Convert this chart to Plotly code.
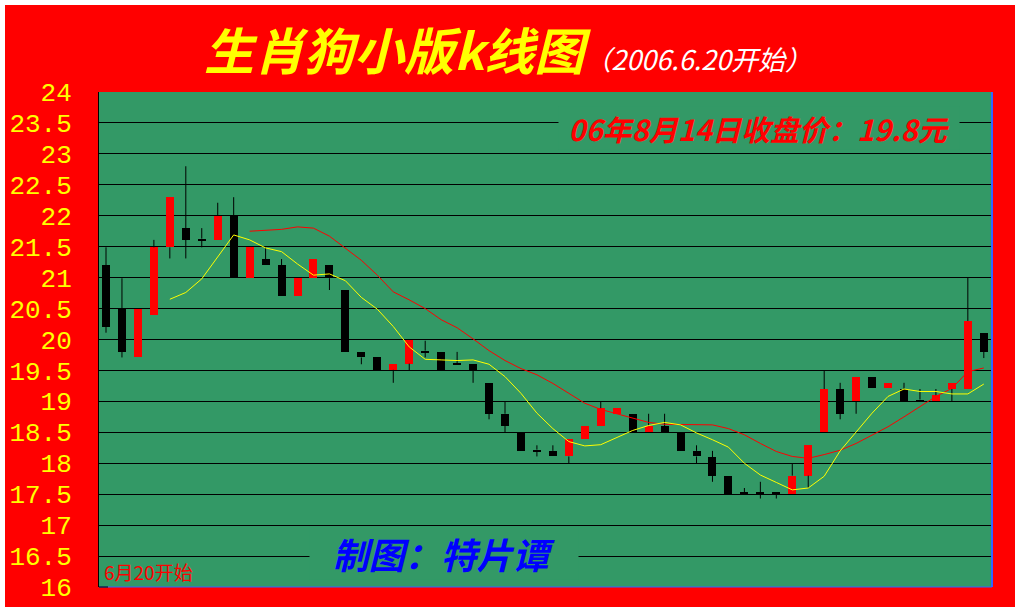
import plotly.graph_objects as go

# ---------------- data ----------------
open_ = [21.20, 20.49, 19.71, 20.40, 21.49, 21.80, 21.63, 21.61, 22.00, 20.99,
         21.30, 21.20, 20.70, 21.00, 21.20, 20.80, 19.80, 19.71, 19.51, 19.61,
         19.82, 19.80, 19.62, 19.60, 19.30, 18.80, 18.50, 18.22, 18.20, 18.11,
         18.40, 18.61, 18.80, 18.80, 18.50, 18.60, 18.50, 18.20, 18.10, 17.80,
         17.53, 17.53, 17.53, 17.50, 17.80, 18.50, 19.20, 19.00, 19.39, 19.21,
         19.20, 19.03, 19.00, 19.20, 19.20, 20.10]
high = [21.49, 20.99, 20.49, 21.61, 22.30, 22.80, 21.80, 22.21, 22.30, 21.49,
        21.49, 21.30, 21.00, 21.30, 21.20, 20.80, 19.80, 19.71, 19.60, 20.00,
        19.98, 19.80, 19.80, 19.60, 19.30, 19.00, 18.50, 18.29, 18.29, 18.39,
        18.60, 19.00, 18.89, 18.80, 18.80, 18.80, 18.50, 18.29, 18.20, 17.80,
        17.60, 17.70, 17.53, 18.00, 18.29, 19.50, 19.30, 19.39, 19.39, 19.30,
        19.30, 19.20, 19.20, 19.30, 21.00, 20.10]
low = [20.11, 19.71, 19.71, 20.40, 21.31, 21.31, 21.49, 21.61, 20.99, 20.99,
       21.20, 20.70, 20.70, 21.00, 20.80, 19.80, 19.60, 19.50, 19.30, 19.50,
       19.71, 19.50, 19.59, 19.30, 18.71, 18.50, 18.20, 18.11, 18.11, 18.00,
       18.40, 18.61, 18.80, 18.50, 18.50, 18.50, 18.20, 18.00, 17.70, 17.50,
       17.50, 17.43, 17.43, 17.50, 17.60, 18.50, 18.71, 18.80, 19.21, 19.21,
       19.00, 19.00, 19.00, 19.00, 19.20, 19.70]
close = [20.21, 19.80, 20.49, 21.49, 22.30, 21.61, 21.60, 22.00, 20.99, 21.49,
         21.20, 20.70, 21.00, 21.30, 20.99, 19.80, 19.71, 19.50, 19.60, 20.00,
         19.79, 19.50, 19.59, 19.50, 18.80, 18.61, 18.20, 18.19, 18.11, 18.39,
         18.60, 18.89, 18.89, 18.50, 18.61, 18.50, 18.20, 18.11, 17.80, 17.50,
         17.50, 17.50, 17.50, 17.80, 18.29, 19.20, 18.80, 19.39, 19.21, 19.30,
         19.00, 19.00, 19.10, 19.30, 20.30, 19.80]

ma_short = [None] * 4 + [
    20.65, 20.76, 20.98, 21.34, 21.69, 21.61, 21.48, 21.42, 21.22, 21.04,
    21.06, 20.95, 20.68, 20.49, 20.21, 19.88, 19.68, 19.67, 19.66, 19.67,
    19.60, 19.40, 19.13, 18.81, 18.56, 18.35, 18.28, 18.30, 18.41, 18.53,
    18.61, 18.66, 18.62, 18.49, 18.38, 18.26, 18.00, 17.81, 17.69, 17.57,
    17.60, 17.79, 18.20, 18.51, 18.81, 19.08, 19.20, 19.16, 19.16, 19.12,
    19.12, 19.28]
ma_long = [None] * 9 + [
    21.75, 21.76, 21.78, 21.82, 21.80, 21.67, 21.47, 21.28, 21.04, 20.77,
    20.64, 20.50, 20.32, 20.19, 20.01, 19.82, 19.66, 19.53, 19.43, 19.29,
    19.13, 18.97, 18.87, 18.80, 18.73, 18.66, 18.63, 18.63, 18.63, 18.62,
    18.56, 18.46, 18.32, 18.19, 18.11, 18.08, 18.14, 18.21, 18.32, 18.45,
    18.59, 18.75, 18.91, 19.08, 19.21, 19.48, 19.54]

tick_vals = [16, 16.5, 17, 17.5, 18, 18.5, 19, 19.5, 20, 20.5, 21, 21.5, 22, 22.5, 23, 23.5, 24]
tick_text = ["16", "16.5", "17", "17.5", "18", "18.5", "19", "19.5", "20",
             "20.5", "21", "21.5", "22", "22.5", "23", "23.5", "24"]

title_main = "生肖狗小版k线图"
title_sub = "（2006.6.20开始）"
note_close = "06年8月14日收盘价：19.8元"
note_author = "制图：特片谭"
note_start = "6月20开始"

# ---------------- styling ----------------
RED = "#ff0000"
GREEN = "#339966"
YELLOW = "#ffff00"
BLUE = "#0000ff"
CJK = "Noto Sans CJK SC"

W, H = 1020, 615
PX0, PX1, PY0, PY1 = 99, 992, 92, 587      # plot area in pixels
PW, PH = PX1 - PX0, PY1 - PY0


def px(x):
    return (x - PX0) / PW


def py(y):
    return (PY1 - y) / PH


n = len(close)
idx = list(range(n))
MIN_BODY = 0.03

body_base, body_h, body_col = [], [], []
wick_x, wick_y = [], []
for i in idx:
    o, c, h, l = open_[i], close[i], high[i], low[i]
    top, bot = max(o, c), min(o, c)
    body_base.append(bot)
    body_h.append(max(top - bot, MIN_BODY))
    body_col.append(RED if c > o else "#000000")
    if h > top:
        wick_x += [i, i, None]
        wick_y += [top, h, None]
    if l < bot:
        wick_x += [i, i, None]
        wick_y += [l, bot, None]

fig = go.Figure()
fig.add_trace(go.Scatter(x=wick_x, y=wick_y, mode="lines",
                         line=dict(color="#000000", width=1),
                         hoverinfo="skip", showlegend=False))
fig.add_trace(go.Bar(x=idx, y=body_h, base=body_base, width=0.5,
                     marker=dict(color=body_col, line=dict(width=0)),
                     hoverinfo="skip", showlegend=False))
fig.add_trace(go.Scatter(x=idx, y=ma_long, mode="lines",
                         line=dict(color=RED, width=1),
                         hoverinfo="skip", showlegend=False))
fig.add_trace(go.Scatter(x=idx, y=ma_short, mode="lines",
                         line=dict(color=YELLOW, width=1),
                         hoverinfo="skip", showlegend=False))

spacing = 15.96
fig.update_xaxes(range=[-(106 - PX0) / spacing, (PX1 - 106) / spacing],
                 visible=False, fixedrange=True, automargin=False)
fig.update_yaxes(range=[16, 24], tickvals=tick_vals, ticktext=tick_text,
                 showgrid=True, gridcolor="#000000", gridwidth=1,
                 zeroline=False, showline=True, linecolor="#000000", linewidth=1,
                 ticks="", ticklabelstandoff=21, automargin=False,
                 tickfont=dict(family="Liberation Mono", size=26, color=YELLOW),
                 fixedrange=True)

shapes = [
    dict(type="rect", xref="paper", yref="paper", layer="below",
         x0=px(5), x1=px(1015), y0=py(607), y1=py(5),
         fillcolor=RED, line=dict(width=0)),
    dict(type="rect", xref="paper", yref="paper", layer="below",
         x0=0, x1=1, y0=0, y1=1, fillcolor=GREEN, line=dict(width=0)),
    dict(type="line", xref="paper", yref="paper", x0=1, x1=1, y0=0, y1=1,
         line=dict(color="#3366ff", width=2)),
    dict(type="line", xref="paper", yref="paper", x0=0, x1=1, y0=0, y1=0,
         line=dict(color="#3366ff", width=1)),
    dict(type="line", xref="paper", yref="paper", x0=0, x1=px(108), y0=0, y1=0,
         line=dict(color="#000000", width=1)),
]

annotations = [
    dict(xref="paper", yref="paper", x=px(759), y=py(128), xanchor="center", yanchor="middle",
         text="<b><i>" + note_close + "</i></b>", showarrow=False, width=400,
         bgcolor=GREEN, borderpad=0,
         font=dict(family=CJK, size=29, color=RED)),
    dict(xref="paper", yref="paper", x=px(444), y=py(553), xanchor="center", yanchor="middle",
         text="<b><i>" + note_author + "</i></b>", showarrow=False, width=268,
         bgcolor=GREEN, borderpad=0,
         font=dict(family=CJK, size=36, color=BLUE)),
    dict(xref="paper", yref="paper", x=px(102), y=py(571), xanchor="left", yanchor="middle",
         text=note_start, showarrow=False,
         font=dict(family=CJK, size=19, color=RED)),
]

fig.update_layout(
    width=W, height=H,
    margin=dict(l=PX0, r=W - PX1, t=PY0, b=H - PY1, pad=0, autoexpand=False),
    paper_bgcolor="#ffffff", plot_bgcolor="rgba(0,0,0,0)",
    title=dict(
        text="<b><i>" + title_main + "</i></b>"
             + "<span style='font-size:27px;color:#ffffff'><i>" + title_sub + "</i></span>",
        x=508 / W, xanchor="center", y=1 - 52 / H, yanchor="middle",
        font=dict(family=CJK, size=50, color=YELLOW)),
    shapes=shapes, annotations=annotations,
    bargap=0, showlegend=False,
)

fig.write_html("out.html", config={"displayModeBar": False},
               post_script="document.body.style.margin='0';document.body.style.overflow='hidden';")
